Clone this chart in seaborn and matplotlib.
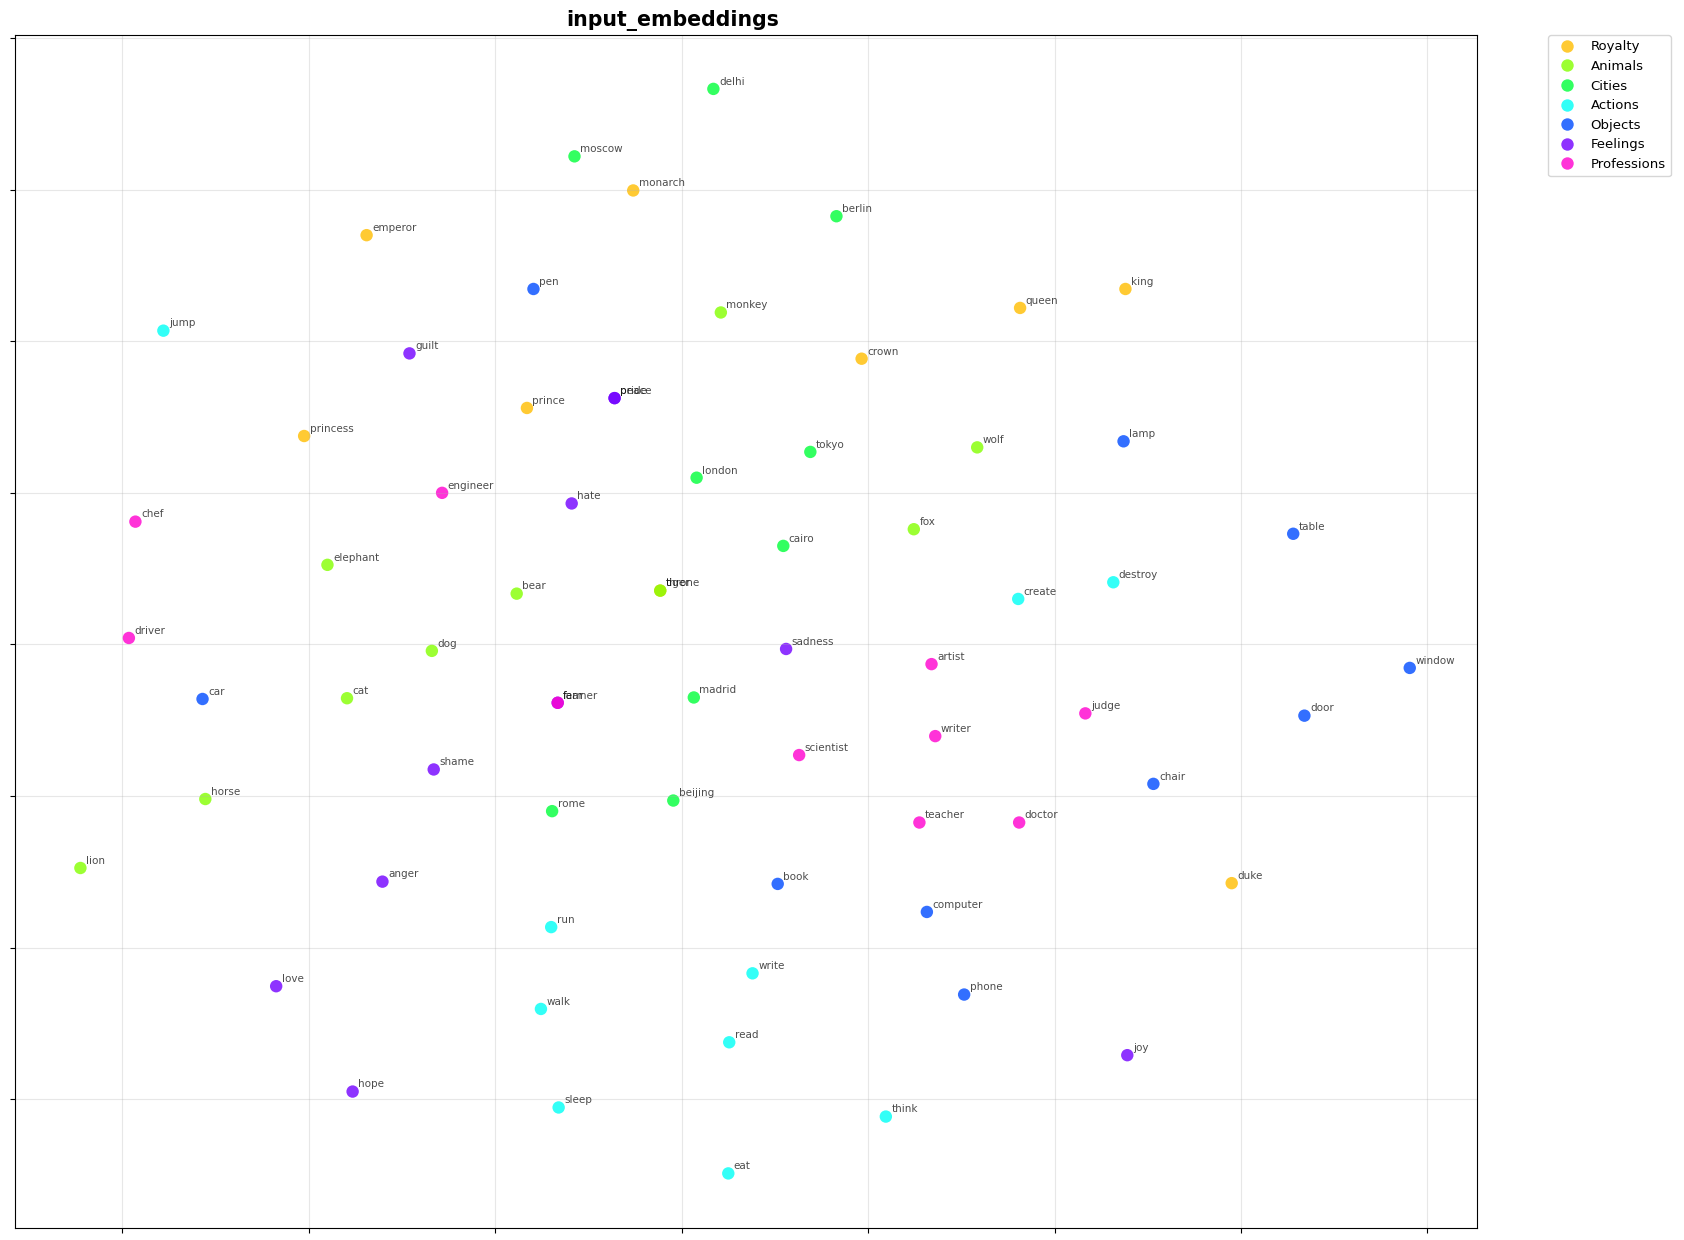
#import libraries
import pandas as pd
import matplotlib
matplotlib.use("Agg")
import matplotlib.pyplot as plt
import seaborn as sns

#categories in legend order
categories = ['Royalty', 'Animals', 'Cities', 'Actions', 'Objects', 'Feelings', 'Professions']

#words and their 2d embedding coordinates, per category
royalty_words = ['monarch', 'emperor', 'king', 'queen', 'crown', 'prince', 'princess', 'throne', 'duke']
royalty_x = [-5.2, -33.8, 47.6, 36.3, 19.3, -16.6, -40.5, -2.3, 59.0]
royalty_y = [59.9, 54.0, 46.9, 44.4, 37.7, 31.2, 27.5, 7.1, -31.5]

animals_words = ['monkey', 'wolf', 'fox', 'elephant', 'bear', 'tiger', 'dog', 'cat', 'horse', 'lion']
animals_x = [4.2, 31.7, 24.9, -38.0, -17.7, -2.3, -26.8, -35.9, -51.1, -64.5]
animals_y = [43.8, 26.0, 15.2, 10.5, 6.7, 7.1, -0.85, -7.1, -20.4, -29.5]

cities_words = ['delhi', 'moscow', 'berlin', 'tokyo', 'london', 'cairo', 'madrid', 'beijing', 'rome']
cities_x = [3.4, -11.5, 16.6, 13.8, 1.6, 10.9, 1.3, -0.9, -13.9]
cities_y = [73.3, 64.4, 56.5, 25.4, 22.0, 13.0, -7.0, -20.6, -22.0]

actions_words = ['jump', 'create', 'destroy', 'run', 'write', 'walk', 'read', 'sleep', 'think', 'eat']
actions_x = [-55.6, 36.1, 46.3, -14.0, 7.6, -15.1, 5.1, -13.2, 21.9, 5.0]
actions_y = [41.4, 6.0, 8.2, -37.3, -43.4, -48.1, -52.5, -61.1, -62.3, -69.8]

objects_words = ['pen', 'lamp', 'table', 'window', 'door', 'car', 'chair', 'book', 'computer', 'phone']
objects_x = [-15.9, 47.4, 65.6, 78.1, 66.8, -51.4, 50.6, 10.3, 26.3, 30.3]
objects_y = [46.9, 26.8, 14.6, -3.1, -9.4, -7.2, -18.4, -31.6, -35.3, -46.2]

feelings_words = ['guilt', 'pride', 'peace', 'hate', 'sadness', 'shame', 'anger', 'love', 'joy', 'hope', 'fear']
feelings_x = [-29.2, -7.2, -7.2, -11.8, 11.2, -26.6, -32.1, -43.5, 47.8, -35.3, -13.3]
feelings_y = [38.4, 32.5, 32.5, 18.6, -0.6, -16.5, -31.3, -45.1, -54.2, -59.0, -7.7]

professions_words = ['engineer', 'chef', 'driver', 'artist', 'judge', 'writer', 'scientist', 'teacher', 'doctor', 'farmer']
professions_x = [-25.7, -58.6, -59.3, 26.8, 43.3, 27.2, 12.6, 25.5, 36.2, -13.3]
professions_y = [20.0, 16.2, 0.85, -2.6, -9.1, -12.1, -14.6, -23.5, -23.5, -7.7]

#build one table from the lists
groups = [
    (royalty_words, royalty_x, royalty_y),
    (animals_words, animals_x, animals_y),
    (cities_words, cities_x, cities_y),
    (actions_words, actions_x, actions_y),
    (objects_words, objects_x, objects_y),
    (feelings_words, feelings_x, feelings_y),
    (professions_words, professions_x, professions_y),
]
frames = []
for cat, (w, xs, ys) in zip(categories, groups):
    frames.append(pd.DataFrame({'word': w, 'x': xs, 'y': ys, 'category': cat}))
data = pd.concat(frames, ignore_index=True)

fig = plt.figure(figsize=(16.84, 12.4), dpi=100)
ax = fig.add_axes([0.009, 0.0097, 0.868, 0.962])

sns.scatterplot(data=data, x='x', y='y', hue='category', hue_order=categories,
                palette=sns.color_palette('hsv', len(categories)),
                s=80, alpha=0.8, edgecolor='none', ax=ax)

#word labels (overlapping words stay overlapping, like the original)
for _, row in data.iterrows():
    ax.annotate(row['word'], (row['x'], row['y']), xytext=(4, 3),
                textcoords='offset points', fontsize=7.5, alpha=0.7)

ax.set_xlim(-71.5, 85.3)
ax.set_ylim(-77.0, 80.4)
ax.set_xticks(range(-60, 81, 20))
ax.set_yticks(range(-60, 81, 20))
ax.tick_params(labelbottom=False, labelleft=False)
ax.grid(True, alpha=0.3)
ax.set_xlabel('')
ax.set_ylabel('')

#title sits a bit left of the axes centre in the original
ax.text(0.45, 1.0075, 'input_embeddings', transform=ax.transAxes,
        ha='center', va='baseline', fontsize=14.8, fontweight='bold')

ax.legend(bbox_to_anchor=(1.049, 1), loc='upper left', borderaxespad=0,
          fontsize=9.5, labelspacing=0.5)

plt.savefig('out.png', dpi=100)
